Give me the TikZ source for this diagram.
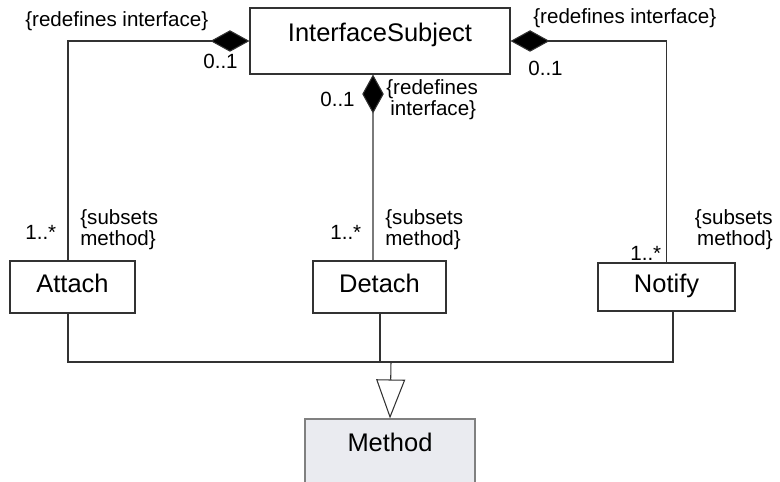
\documentclass[tikz,border=0pt]{standalone}
\usepackage{fontspec}
\setmainfont{Liberation Sans}
\usepackage{tikz}
\usepackage{xcolor}
\usetikzlibrary{arrows.meta,positioning,calc}

\definecolor{methodgray}{RGB}{234,235,240}
\definecolor{linegray}{RGB}{50,50,50}

\begin{document}
\begin{tikzpicture}[
    classbox/.style={rectangle, draw=linegray, line width=0.6pt, fill=white, font=\fontsize{14.5}{16}\selectfont, inner sep=0pt, text height=0.4cm, text depth=0.2cm},
    lbl/.style={font=\fontsize{11.7}{12}\selectfont, inner sep=0pt},
    comp/.style={draw=linegray, line width=0.6pt, {Diamond[length=0.78cm,width=0.43cm,fill=black]}-},
    gen/.style={draw=linegray, line width=0.6pt, -{Triangle[open,length=0.78cm,width=0.58cm,fill=white]}},
    conn/.style={draw=linegray, line width=0.6pt}
]
\useasboundingbox (0,0) rectangle (15.6,-9.62);

\node[classbox, minimum width=5.2cm, minimum height=1.32cm, text depth=0.36cm] (subject) at (7.6,-0.82) {InterfaceSubject};
\node[classbox, minimum width=2.5cm, minimum height=1.04cm] (attach) at (1.45,-5.74) {Attach};
\node[classbox, minimum width=2.66cm, minimum height=1.04cm] (detach) at (7.59,-5.74) {Detach};
\node[classbox, minimum width=2.74cm, minimum height=0.96cm] (notify) at (13.33,-5.74) {Notify};
\node[classbox, draw=gray, fill=methodgray, minimum width=3.4cm, minimum height=1.62cm, text depth=0.74cm] (method) at (7.8,-9.19) {Method};

\coordinate (bus) at (7.82,-7.24);

\draw[comp] (subject.west) -| ([xshift=-0.09cm]attach.north);
\draw[comp] ([xshift=-0.14cm]subject.south) -- ([xshift=-0.13cm]detach.north);
\draw[comp] (subject.east) -| (notify.north);

\draw[conn] ([xshift=-0.09cm]attach.south) |- (bus) -| ([xshift=0.13cm]notify.south);
\draw[conn] ([xshift=0.01cm]detach.south) -- ([xshift=0.01cm]detach.south |- bus);
\draw[gen] (bus) -- (method.north);

% Role names and multiplicities
\node[lbl, anchor=west] (redefl) at (0.5,-0.42) {\{redefines interface\}};
\node[lbl, anchor=west] (multl) at (4.06,-1.22) {0..1};
\node[lbl, anchor=west] (multm) at (6.4,-1.98) {0..1};
\node[lbl, anchor=west, align=left] (redefm) at (7.72,-1.99) {\{redefines\\\hspace{0.08cm}interface\}};
\node[lbl, anchor=west] (redefr) at (10.66,-0.36) {\{redefines interface\}};
\node[lbl, anchor=west] (multr) at (10.56,-1.36) {0..1};

\node[lbl, anchor=west] (manyl) at (0.5,-4.64) {1..*};
\node[lbl, anchor=west, align=left] (subl) at (1.6,-4.6) {\{subsets\\method\}};
\node[lbl, anchor=west] (manym) at (6.6,-4.64) {1..*};
\node[lbl, anchor=west, align=left] (subm) at (7.7,-4.6) {\{subsets\\method\}};
\node[lbl, anchor=west] (manyr) at (12.6,-5.06) {1..*};
\node[lbl, anchor=east, align=right] (subr) at (15.46,-4.6) {\{subsets\\method\}};

\end{tikzpicture}
\end{document}
